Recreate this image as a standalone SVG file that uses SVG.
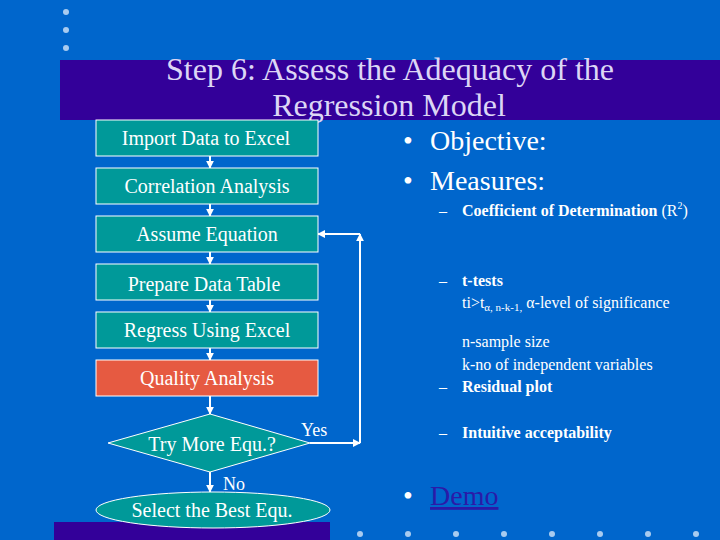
<svg xmlns="http://www.w3.org/2000/svg" width="720" height="540" viewBox="0 0 720 540">
<defs>
<marker id="ah" viewBox="0 0 10 10" refX="9" refY="5" markerWidth="4" markerHeight="4" orient="auto"><path d="M0,0 L10,5 L0,10 z" fill="#FFFFFF"/></marker>
<style>
.bx{fill:#009999;stroke:#FFFFFF;stroke-width:1}
.red{fill:#E65A41;stroke:#FFFFFF;stroke-width:1}
.t{font-family:"Liberation Serif","Times New Roman",serif;font-size:20px;fill:#FFFFFF;text-anchor:middle}
.c{stroke:#FFFFFF;stroke-width:2;fill:none;marker-end:url(#ah)}
.dot{fill:#A8CBF0}
.big{font-family:"Liberation Serif","Times New Roman",serif;font-size:28px;fill:#FFFFFF}
.sm{font-family:"Liberation Serif","Times New Roman",serif;font-size:16px;fill:#FFFFFF}
.lbl{font-family:"Liberation Serif","Times New Roman",serif;font-size:18px;fill:#FFFFFF}
.b{font-weight:bold}
</style>
</defs>
<rect x="0" y="0" width="720" height="540" fill="#0066CC"/>
<g id="decor">
<circle class="dot" cx="66" cy="12" r="3"/>
<circle class="dot" cx="66" cy="30" r="3"/>
<circle class="dot" cx="66" cy="48" r="3"/>
<rect x="60" y="60" width="660" height="60" fill="#330099"/>
<rect x="54" y="522" width="276" height="18" fill="#330099"/>
<circle class="dot" cx="360" cy="534" r="3"/>
<circle class="dot" cx="408" cy="534" r="3"/>
<circle class="dot" cx="456" cy="534" r="3"/>
<circle class="dot" cx="504" cy="534" r="3"/>
<circle class="dot" cx="552" cy="534" r="3"/>
<circle class="dot" cx="600" cy="534" r="3"/>
<circle class="dot" cx="648" cy="534" r="3"/>
<circle class="dot" cx="696" cy="534" r="3"/>
</g>
<g id="title" font-family="Liberation Serif, Times New Roman, serif" font-size="32" fill="#DCD6F5" text-anchor="middle">
<text x="390" y="80">Step 6: Assess the Adequacy of the</text>
<text x="389" y="116">Regression Model</text>
</g>
<g id="connectors">
<line class="c" x1="210" y1="156" x2="210" y2="168"/>
<line class="c" x1="210" y1="204" x2="210" y2="216"/>
<line class="c" x1="210" y1="252" x2="210" y2="264"/>
<line class="c" x1="210" y1="300" x2="210" y2="312"/>
<line class="c" x1="210" y1="348" x2="210" y2="360"/>
<line class="c" x1="210" y1="396" x2="210" y2="414"/>
<line class="c" x1="210" y1="472" x2="210" y2="492"/>
<line class="c" x1="310" y1="443" x2="360" y2="443"/>
<line class="c" x1="360" y1="443" x2="360" y2="234"/>
<line class="c" x1="360" y1="234" x2="318" y2="234"/>
<text class="lbl" x="301" y="436">Yes</text>
<text class="lbl" x="223" y="490">No</text>
</g>
<g id="n1"><rect class="bx" x="96" y="120" width="222" height="36"/><text class="t" x="206" y="145">Import Data to Excel</text></g>
<g id="n2"><rect class="bx" x="96" y="168" width="222" height="36"/><text class="t" x="207" y="193">Correlation Analysis</text></g>
<g id="n3"><rect class="bx" x="96" y="216" width="222" height="36"/><text class="t" x="207" y="241">Assume Equation</text></g>
<g id="n4"><rect class="bx" x="96" y="264" width="222" height="36"/><text class="t" x="204" y="291">Prepare Data Table</text></g>
<g id="n5"><rect class="bx" x="96" y="312" width="222" height="36"/><text class="t" x="207" y="337">Regress Using Excel</text></g>
<g id="n6"><rect class="red" x="96" y="360" width="222" height="36"/><text class="t" x="207" y="385">Quality Analysis</text></g>
<g id="n7"><polygon class="bx" points="108,443 210,414 310,443 210,472"/><text class="t" x="212" y="451">Try More Equ.?</text></g>
<g id="n8"><ellipse class="bx" cx="213" cy="510" rx="117" ry="18"/><text class="t" x="212" y="517">Select the Best Equ.</text></g>
<g id="bullets">
<text class="big" x="403" y="150">•<tspan x="430">Objective:</tspan></text>
<text class="big" x="403" y="190">•<tspan x="430">Measures:</tspan></text>
<text class="sm" x="439" y="216">–<tspan x="462" class="b">Coefficient of Determination</tspan> (R<tspan font-size="10" dy="-7">2</tspan><tspan dy="7">)</tspan></text>
<text class="sm" x="439" y="286">–<tspan x="462" class="b">t-tests</tspan></text>
<text class="sm" x="462" y="308">ti&gt;t<tspan font-size="11" dy="3">α, n-k-1,</tspan><tspan dy="-3"> α-level of significance</tspan></text>
<text class="sm" x="462" y="347">n-sample size</text>
<text class="sm" x="462" y="370">k-no of independent variables</text>
<text class="sm" x="439" y="392">–<tspan x="462" class="b">Residual plot</tspan></text>
<text class="sm" x="439" y="438">–<tspan x="462" class="b">Intuitive acceptability</tspan></text>
<text class="big" x="403" y="505">•<tspan x="430" fill="#2A1AA8" text-decoration="underline">Demo</tspan></text>
</g>
</svg>
